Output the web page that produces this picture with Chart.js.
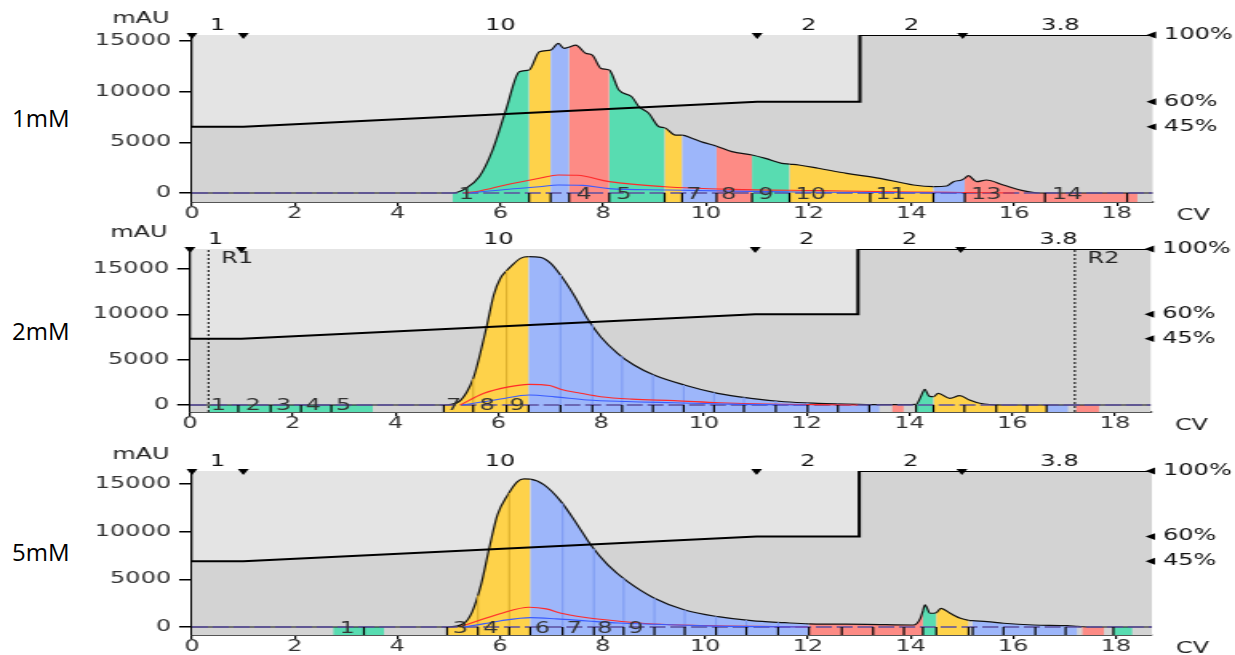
<!DOCTYPE html>
<html>
<head>
<meta charset="utf-8">
<script src="https://cdn.jsdelivr.net/npm/chart.js@4/dist/chart.umd.min.js"></script>
<style>
    body { margin: 0; background: #fff; width: 1235px; height: 655px; overflow: hidden; position: relative; }
    canvas { position: absolute; left: 0; width: 1235px; }
    .conc { position: absolute; left: 12px; font: 24px/24px "Open Sans", sans-serif; color: #000; }
</style>
</head>
<body>
<div class="conc" style="top:106px">1mM</div>
<div class="conc" style="top:319px">2mM</div>
<div class="conc" style="top:540px">5mM</div>
<canvas id="p1" width="772" height="222" style="top:0px;height:222px;width:1235px"></canvas>
<canvas id="p2" width="772" height="218" style="top:222px;height:218px;width:1235px"></canvas>
<canvas id="p3" width="772" height="215" style="top:440px;height:215px;width:1235px"></canvas>
<script>
// shared axes
const cvMax = 18.7
const cvTicks = [0, 2, 4, 6, 8, 10, 12, 14, 16, 18]
const mauTicks = [0, 5000, 10000, 15000]
const pctTicks = [45, 60, 100]
const segLabelX = [0.5, 6, 12, 14, 16.9]
const segLabels = ['1', '10', '2', '2', '3.8']
const blockMarks = [0, 1, 11, 15]
const gradX = [0, 1, 11, 13, 13, cvMax]
const gradPct = [45, 45, 60, 60, 100, 100]

const G = '#58dcb1', Y = '#fed24a', B = '#9db6fa', R = '#fd8b85', N = null
const darker = { '#58dcb1': '#3ec496', '#fed24a': '#dcae2c', '#9db6fa': '#7f9cf3', '#fd8b85': '#ee6d66' }

// 1mM
const uv1X = [0, 5.07, 5.33, 5.59, 5.85, 6.11, 6.37, 6.56, 6.76, 6.98, 7.13, 7.24, 7.34, 7.47, 7.66, 7.79, 7.96, 8.12, 8.31, 8.56, 8.70, 8.89, 9.09, 9.20, 9.41, 9.54, 9.73, 9.95, 10.21, 10.51, 10.90, 11.16, 11.48, 11.63, 11.81, 12.19, 12.74, 13.39, 14.04, 14.43, 14.69, 14.82, 14.98, 15.04, 15.11, 15.27, 15.46, 15.79, 16.17, 16.50, 18.7]
const uv1Y = [0, 0, 460, 1600, 4240, 8200, 11970, 12140, 13950, 14110, 14770, 14280, 14400, 14600, 13790, 13620, 12300, 12140, 10160, 9500, 8520, 7870, 6540, 6440, 5720, 5720, 5400, 5000, 4620, 4080, 3750, 3420, 2930, 2850, 2760, 2440, 1940, 1450, 790, 620, 690, 1120, 1280, 1450, 1710, 1120, 1280, 790, 230, 0, 0]
const red1X = [5.3, 5.6, 6.1, 6.76, 7.13, 7.5, 8.12, 9.2, 10.5, 12.2, 14, 15, 16]
const red1Y = [0, 200, 790, 1450, 1780, 1750, 1120, 620, 360, 230, 100, 50, 0]
const blue1X = [5.4, 6.1, 6.76, 7.13, 7.6, 8.12, 9.2, 10.5, 12.2, 14, 15]
const blue1Y = [0, 350, 620, 790, 750, 430, 300, 180, 80, 30, 0]
const band1Edges = [5.07, 6.56, 6.98, 7.34, 8.12, 9.20, 9.54, 10.21, 10.90, 11.63, 14.43, 15.04, 18.40]
const band1Colors = [G, Y, B, R, G, Y, B, R, G, Y, B, R]
const ticks1 = [6.56, 6.98, 7.34, 8.12, 9.20, 9.54, 10.21, 10.90, 11.63, 13.2, 14.43, 15.04, 16.6, 18.2]
const lab1Text = ['1', '4', '5', '7', '8', '9', '10', '11', '13', '14']
const lab1X = [5.34, 7.63, 8.41, 9.77, 10.45, 11.17, 12.04, 13.6, 15.46, 17.03]
const cut1X = []
const cut1Y = []

// 2mM
const uv2X = [0, 4.94, 5.23, 5.39, 5.51, 5.59, 5.78, 5.91, 6.04, 6.16, 6.24, 6.43, 6.59, 6.82, 7.02, 7.21, 7.47, 7.73, 7.99, 8.32, 8.64, 9.03, 9.62, 10.27, 10.92, 11.57, 12.22, 13.0, 13.42, 13.66, 13.89, 14.13, 14.22, 14.30, 14.38, 14.47, 14.56, 14.79, 14.98, 15.17, 15.37, 15.8, 18.7]
const uv2Y = [0, 0, 360, 1470, 2900, 4410, 8820, 12130, 13970, 14800, 15250, 16170, 16350, 16280, 15620, 14330, 12130, 9560, 7530, 5700, 4410, 3310, 2210, 1290, 740, 360, 190, 80, 50, 40, 35, 60, 900, 1730, 1000, 920, 1290, 740, 1030, 550, 190, 0, 0]
const red2X = [5.26, 5.72, 6.2, 6.59, 7.0, 7.21, 7.6, 7.99, 8.6, 9.42, 10.3, 11.2, 12.2, 13]
const red2Y = [0, 1290, 2000, 2280, 2150, 1730, 1300, 920, 650, 480, 250, 100, 40, 0]
const blue2X = [5.3, 5.7, 6.04, 6.6, 7.1, 7.73, 8.5, 9.42, 10.5, 12]
const blue2Y = [0, 350, 660, 1100, 900, 550, 380, 250, 100, 0]
const band2Edges = [0.36, 3.56, 4.94, 6.59, 13.42, 13.66, 13.89, 14.13, 14.47, 16.67, 17.09, 17.24, 17.69]
const band2Colors = [G, N, Y, B, N, R, N, G, Y, B, N, R]
const ticks2 = [0.94, 1.57, 2.16, 2.75, 4.94, 5.51, 6.16, 6.59, 7.21, 7.83, 8.41, 9.01, 9.61, 10.20, 10.78, 11.40, 12.02, 12.61, 13.22, 14.13, 14.47, 15.07, 15.69, 16.29, 16.67]
const lab2Text = ['1', '2', '3', '4', '5', '7', '8', '9']
const lab2X = [0.55, 1.23, 1.82, 2.40, 2.99, 5.13, 5.78, 6.37]
const ref2X = [0.36, 17.22]
const ref2Text = ['R1', 'R2']
const cut2X = [5.51, 6.16, 7.21, 7.83, 8.41, 9.01, 9.61, 10.20, 10.78, 11.40, 12.02, 12.61]
const cut2Y = [2900, 14800, 14330, 8900, 5400, 3350, 2220, 1380, 850, 450, 240, 130]

// 5mM
const uv3X = [0, 4.97, 5.30, 5.46, 5.63, 5.79, 5.95, 6.15, 6.34, 6.47, 6.59, 6.86, 7.19, 7.51, 7.77, 8.10, 8.49, 9.01, 9.60, 10.25, 10.90, 11.55, 12.02, 13.14, 14.06, 14.19, 14.24, 14.28, 14.38, 14.50, 14.59, 14.77, 14.97, 15.13, 15.21, 15.49, 15.81, 16.40, 17.05, 17.25, 17.34, 17.5, 18.7]
const uv3Y = [0, 0, 390, 1610, 4410, 8260, 11750, 13850, 15250, 15530, 15500, 14900, 13150, 10700, 8600, 6510, 4750, 3010, 1780, 1080, 660, 450, 330, 280, 210, 910, 1700, 2310, 1440, 1500, 1960, 1440, 910, 700, 660, 560, 390, 210, 140, 60, 30, 0, 0]
const red3X = [5.2, 5.6, 6.0, 6.57, 6.9, 7.19, 7.6, 8.10, 9.0, 10, 11, 12]
const red3Y = [0, 700, 1400, 2070, 1900, 1440, 1050, 730, 310, 150, 60, 0]
const blue3X = [5.3, 5.7, 6.02, 6.6, 7.1, 7.7, 8.3, 9.0, 10, 11, 12]
const blue3Y = [0, 350, 660, 980, 850, 630, 420, 280, 120, 40, 0]
const band3Edges = [2.75, 3.74, 4.97, 6.59, 12.02, 14.24, 14.50, 15.13, 15.21, 17.25, 17.34, 17.77, 17.95, 18.32]
const band3Colors = [G, N, Y, B, R, G, Y, N, B, N, R, N, G]
const ticks3 = [3.35, 4.97, 5.57, 6.18, 6.59, 7.22, 7.83, 8.41, 9.01, 9.60, 10.21, 10.80, 11.42, 12.02, 12.66, 13.27, 13.87, 14.24, 14.50, 15.13, 15.21, 15.81, 16.43, 17.02, 17.95]
const lab3Text = ['1', '3', '4', '6', '7', '8', '9']
const lab3X = [3.02, 5.23, 5.82, 6.83, 7.45, 8.04, 8.65]
const cut3X = [5.57, 6.18, 7.22, 7.83, 8.41, 9.01, 9.60, 10.21, 10.80, 11.42]
const cut3Y = [3300, 14050, 12950, 8200, 5100, 3010, 1780, 1110, 720, 490]

const FONT = { family: '"DejaVu Sans", sans-serif', size: 15 }
const CLEAR = 'rgba(0,0,0,0)'

function pts(xs, ys) {
    return xs.map((x, i) => ({ x: x, y: ys[i] }))
}

function fracColor(edges, colors, x) {
    for (let i = 0; i < colors.length; i++) {
        if (x >= edges[i] && x < edges[i + 1]) return colors[i] || CLEAR
    }
    return CLEAR
}

function panel(id, p) {
    const canvas = document.getElementById(id)
    const W = canvas.width, H = canvas.height
    const area = p.area

    // fraction cut lines inside the filled peak: (x,0) -> (x,v), then a gap
    const cutData = []
    p.cutX.forEach((x, i) => {
        cutData.push({ x: x, y: 0 }, { x: x, y: p.cutY[i] }, { x: x, y: null })
    })

    const datasets = [
        { data: pts(gradX, gradPct), yAxisID: 'y2', borderWidth: 0, pointRadius: 0, fill: 'origin', backgroundColor: '#d3d3d3', order: 10 },
        {
            data: p.bandEdges.map(x => ({ x: x, y: p.yMin })), borderWidth: 0, pointRadius: 0,
            fill: { value: 0 }, backgroundColor: CLEAR,
            segment: { backgroundColor: c => p.bandColors[c.p0DataIndex] || CLEAR }, order: 8
        },
        {
            data: pts(p.uvX, p.uvY), borderColor: '#111', borderWidth: 1.2, pointRadius: 0,
            cubicInterpolationMode: 'monotone', fill: 'origin', backgroundColor: CLEAR,
            segment: { backgroundColor: c => fracColor(p.bandEdges, p.bandColors, (p.uvX[c.p0DataIndex] + p.uvX[c.p1DataIndex]) / 2) },
            order: 7
        },
        {
            data: cutData, borderWidth: 1.1, pointRadius: 0, spanGaps: false, borderColor: '#888',
            segment: { borderColor: c => darker[fracColor(p.bandEdges, p.bandColors, cutData[c.p0DataIndex].x)] || CLEAR },
            order: 6.5
        },
        { data: pts(gradX, gradPct), yAxisID: 'y2', borderColor: '#000', borderWidth: 2, pointRadius: 0, fill: false, order: 6 },
        { data: [{ x: 0, y: 0 }, { x: cvMax, y: 0 }], borderColor: '#5b4f9e', borderWidth: 1.3, borderDash: [10, 3], pointRadius: 0, order: 5 },
        { data: pts(p.redX, p.redY), borderColor: '#ff2a2a', borderWidth: 1.1, pointRadius: 0, cubicInterpolationMode: 'monotone', order: 4 },
        { data: pts(p.blueX, p.blueY), borderColor: '#3a5cff', borderWidth: 1.1, pointRadius: 0, cubicInterpolationMode: 'monotone', order: 3 },
        {
            data: p.ticks.map(x => ({ x: x, y: p.yMin / 2 })), showLine: false, pointStyle: 'line', pointRotation: 90,
            pointRadius: p.bandHalf, pointBorderColor: '#000', pointBorderWidth: 1.2, order: 1
        },
        {
            data: blockMarks.map(x => ({ x: x, y: p.yMax })), showLine: false, pointStyle: 'triangle', pointRotation: 180,
            pointRadius: 4, pointBackgroundColor: '#000', pointBorderWidth: 0, clip: false, order: 1
        },
        {
            data: pctTicks.map(v => ({ x: cvMax, y: v })), yAxisID: 'y2', showLine: false, pointStyle: 'triangle', pointRotation: 270,
            pointRadius: 4, pointBackgroundColor: '#000', pointBorderWidth: 0, clip: false, order: 1
        }
    ]
    p.refX.forEach(x => {
        datasets.push({ data: [{ x: x, y: p.yMin }, { x: x, y: p.yMax }], borderColor: '#000', borderWidth: 1, borderDash: [2, 2], pointRadius: 0, order: 1 })
    })

    const deco = {
        id: 'deco',
        beforeDraw(chart) {
            const a = chart.chartArea, c = chart.ctx
            c.save()
            c.fillStyle = '#e4e4e4'
            c.fillRect(a.left, a.top, a.right - a.left, a.bottom - a.top)
            c.restore()
        },
        afterDraw(chart) {
            const a = chart.chartArea, c = chart.ctx
            const xs = chart.scales.x, ys = chart.scales.y
            c.save()
            c.font = '15px "DejaVu Sans"'
            c.textBaseline = 'middle'
            c.fillStyle = '#222'
            c.textAlign = 'right'
            c.fillText('mAU', a.left - 14, a.top - 16)
            c.textAlign = 'left'
            c.fillText('CV', a.right + 15, a.bottom + 14)
            p.refX.forEach((x, i) => c.fillText(p.refText[i], xs.getPixelForValue(x) + 8, a.top + 10))
            const bandMid = (ys.getPixelForValue(0) + ys.getPixelForValue(p.yMin)) / 2 - 2
            c.textAlign = 'center'
            c.fillStyle = '#333'
            p.labText.forEach((t, i) => c.fillText(t, xs.getPixelForValue(p.labX[i]), bandMid))
            c.restore()
        }
    }

    new Chart(canvas, {
        type: 'line',
        data: { datasets: datasets },
        plugins: [deco],
        options: {
            responsive: false,
            animation: false,
            devicePixelRatio: 1,
            events: [],
            layout: { padding: 0 },
            plugins: { legend: { display: false }, tooltip: { enabled: false } },
            scales: {
                x: {
                    type: 'linear', position: 'bottom', min: 0, max: cvMax, z: 1,
                    afterBuildTicks: s => { s.ticks = cvTicks.map(v => ({ value: v })) },
                    afterFit: s => { s.height = H - area.bottom },
                    grid: { drawOnChartArea: false, color: '#000', lineWidth: 1.2, tickLength: 4 },
                    border: { color: '#555', width: 2 },
                    ticks: { color: '#333', font: FONT, padding: -1, maxRotation: 0, autoSkip: false, callback: v => String(v) }
                },
                xTop: {
                    type: 'linear', position: 'top', min: 0, max: cvMax,
                    afterBuildTicks: s => { s.ticks = segLabelX.map(v => ({ value: v })) },
                    afterFit: s => { s.height = area.top },
                    grid: { display: false, drawTicks: false },
                    border: { display: false },
                    ticks: { color: '#111', font: FONT, padding: 0, maxRotation: 0, autoSkip: false, callback: (v, i) => segLabels[i] }
                },
                y: {
                    type: 'linear', position: 'left', min: p.yMin, max: p.yMax, z: 1,
                    afterBuildTicks: s => { s.ticks = mauTicks.map(v => ({ value: v })) },
                    afterFit: s => { s.width = area.left },
                    grid: { drawOnChartArea: false, color: '#000', lineWidth: 1.5, tickLength: 8 },
                    border: { color: '#000', width: 1.3 },
                    ticks: { color: '#333', font: FONT, padding: 5, callback: v => String(v) }
                },
                y2: {
                    type: 'linear', position: 'right', min: 0, max: 100,
                    afterBuildTicks: s => { s.ticks = pctTicks.map(v => ({ value: v })) },
                    afterFit: s => { s.width = W - area.right },
                    grid: { display: false, drawTicks: false },
                    border: { display: false },
                    ticks: { color: '#111', font: FONT, padding: 7, callback: v => v + '%' }
                }
            }
        }
    })
}

panel('p1', {
    area: { left: 120, right: 720.6, top: 35, bottom: 202 },
    yMin: -890, yMax: 15600, bandHalf: 4.5,
    uvX: uv1X, uvY: uv1Y, redX: red1X, redY: red1Y, blueX: blue1X, blueY: blue1Y,
    bandEdges: band1Edges, bandColors: band1Colors, ticks: ticks1,
    labText: lab1Text, labX: lab1X, refX: [], refText: [], cutX: cut1X, cutY: cut1Y
})
panel('p2', {
    area: { left: 118.75, right: 719.4, top: 27, bottom: 190 },
    yMin: -770, yMax: 17200, bandHalf: 3.5,
    uvX: uv2X, uvY: uv2Y, redX: red2X, redY: red2Y, blueX: blue2X, blueY: blue2Y,
    bandEdges: band2Edges, bandColors: band2Colors, ticks: ticks2,
    labText: lab2Text, labX: lab2X, refX: ref2X, refText: ref2Text, cutX: cut2X, cutY: cut2Y
})
panel('p3', {
    area: { left: 120, right: 720, top: 31, bottom: 195 },
    yMin: -840, yMax: 16360, bandHalf: 4,
    uvX: uv3X, uvY: uv3Y, redX: red3X, redY: red3Y, blueX: blue3X, blueY: blue3Y,
    bandEdges: band3Edges, bandColors: band3Colors, ticks: ticks3,
    labText: lab3Text, labX: lab3X, refX: [], refText: [], cutX: cut3X, cutY: cut3Y
})
</script>
</body>
</html>
